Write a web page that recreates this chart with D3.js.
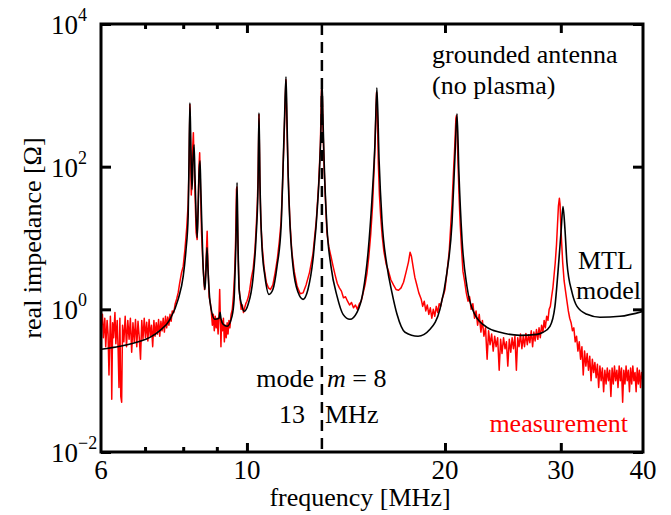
<!DOCTYPE html>
<html>
<head>
<meta charset="utf-8">
<script src="https://cdn.jsdelivr.net/npm/d3@7"></script>
<style>
body { margin: 0; background: #fff; }
text { font-family: "Liberation Serif", "Times New Roman", serif; }
</style>
</head>
<body>
<div id="chart"></div>
<script>
var width = 671, height = 515;
var margin = { left: 101, right: 28, top: 24, bottom: 63 };

// axis ticks
var xTickLabels = [6, 10, 20, 30, 40];
var xTicksMajor = [10, 20, 30];
var xTicksMinor = [7, 8, 9];
var yTicks = [1e-2, 1, 1e2, 1e4];
var yTickExp = ["\u22122", "0", "2", "4"];
var modeFreq = 13;

// MTL model, [frequency MHz, real impedance Ohm]
var model = [[6.0,0.276],[6.41,0.304],[6.88,0.357],[7.12,0.405],[7.38,0.508],[7.64,0.725],[7.86,1.38],[8.0,2.9],
  [8.08,6.9],[8.14,20],[8.16,82.6],[8.19,786],[8.22,173],[8.25,47.7],[8.28,125],[8.31,203],[8.34,66],[8.40,10.1],
  [8.43,25.1],[8.455,77.5],[8.485,121],[8.51,47.7],[8.57,5.0],[8.63,1.9],[8.66,3.09],[8.695,7.36],[8.725,3.63],
  [8.79,1.25],[8.94,0.725],[9.07,0.749],[9.10,0.908],[9.13,0.749],[9.20,0.617],[9.33,0.578],[9.49,0.798],[9.56,1.38],
  [9.59,3.09],[9.625,9.5],[9.66,59.9],[9.69,9.5],[9.73,1.9],[9.83,1.10],[9.90,0.938],[10.04,1.17],[10.21,2.63],
  [10.32,9.5],[10.395,52.5],[10.43,570],[10.47,52.5],[10.54,7.6],[10.65,2.9],[10.80,1.62],[10.95,1.9],[11.11,4.0],
  [11.27,14.5],[11.345,91],[11.405,455],[11.465,1817],[11.505,455],[11.546,91],[11.63,14.5],[11.75,4.0],[11.96,1.73],
  [12.17,1.38],[12.38,1.9],[12.60,5.0],[12.82,34.6],[12.91,125],[12.96,363],[13.00,1650],[13.05,455],[13.10,125],
  [13.23,14.5],[13.42,4.0],[13.71,1.52],[14.0,0.851],[14.34,0.725],[14.70,0.908],[15.01,1.73],[15.28,6.27],[15.49,34.6],
  [15.655,217],[15.76,1276],[15.88,125],[16.04,18.2],[16.33,4.0],[16.61,1.73],[16.91,0.851],[17.39,0.477],[18.20,0.419],
  [18.98,0.525],[19.65,1.0],[20.14,3.3],[20.50,16.5],[20.71,138],[20.86,552],[21.0,82.6],[21.23,9.5],[21.60,2.09],
  [22.2,0.851],[23.17,0.56],[24.25,0.477],[26.0,0.432],[27.6,0.446],[28.19,0.477],[28.88,0.578],[29.39,1.1],[29.70,3.3],
  [30.02,12],[30.23,27.6],[30.44,13.2],[30.65,4.54],[31.2,1.73],[31.75,1.1],[32.88,0.851],[34.41,0.773],[36.9,0.798],[40,0.938]];

// measurement, [frequency MHz, real impedance Ohm]
var measurement = [[6.00,0.55],[6.03,0.85],[6.05,0.40],[6.08,0.75],[6.10,0.30],[6.13,0.70],[6.15,0.45],[6.17,0.12],
  [6.20,0.80],[6.22,0.35],[6.23,0.055],[6.25,0.65],[6.27,0.40],[6.30,0.90],[6.32,0.33],[6.35,0.70],[6.37,0.28],
  [6.39,0.08],[6.41,0.75],[6.43,0.06],[6.45,0.05],[6.47,0.60],[6.50,0.35],[6.53,0.80],[6.56,0.30],[6.59,0.70],
  [6.62,0.38],[6.65,0.75],[6.68,0.25],[6.71,0.65],[6.74,0.35],[6.77,0.72],[6.80,0.30],[6.83,0.68],[6.86,0.40],
  [6.89,0.20],[6.92,0.70],[6.95,0.38],[6.98,0.75],[7.01,0.40],[7.04,0.66],[7.07,0.36],[7.10,0.72],[7.13,0.42],
  [7.16,0.60],[7.19,0.30],[7.22,0.70],[7.25,0.42],[7.28,0.65],[7.31,0.45],[7.34,0.72],[7.37,0.42],[7.40,0.68],
  [7.43,0.50],[7.46,0.75],[7.49,0.48],[7.52,0.80],[7.55,0.55],[7.58,0.78],[7.61,0.60],[7.64,0.85],[7.67,0.68],
  [7.70,0.95],[7.74,0.90],[7.78,1.2],[7.82,1.4],[7.86,1.7],[7.90,2.3],[7.95,3.2],[8.00,4.0],[8.05,7.0],[8.10,14],
  [8.14,30],[8.17,120],[8.19,737],[8.21,150],[8.23,40],[8.25,70],[8.27,180],[8.29,300],[8.31,120],[8.34,40],
  [8.37,12],[8.40,9.5],[8.43,30],[8.455,100],[8.475,157],[8.50,50],[8.53,12],[8.57,4.5],[8.62,1.9],[8.65,3.0],
  [8.68,7.0],[8.70,12.4],[8.72,5.0],[8.76,1.5],[8.80,1.2],[8.83,0.9],[8.86,0.6],[8.89,0.85],[8.92,0.5],[8.95,0.8],
  [8.98,0.55],[9.01,0.75],[9.04,0.45],[9.07,0.9],[9.09,1.9],[9.11,0.8],[9.13,0.30],[9.15,0.7],[9.18,0.5],[9.21,0.75],
  [9.24,0.35],[9.27,0.6],[9.30,0.40],[9.33,0.65],[9.36,0.45],[9.39,0.70],[9.42,0.55],[9.46,0.85],[9.50,1.0],
  [9.54,1.6],[9.58,3.3],[9.61,9.0],[9.64,48],[9.655,52],[9.67,20],[9.70,5],[9.73,2.0],[9.77,1.3],[9.80,1.0],
  [9.84,1.15],[9.88,0.9],[9.92,1.05],[9.96,1.2],[10.00,1.3],[10.05,1.5],[10.10,1.9],[10.16,2.8],[10.22,3.7],
  [10.28,6.5],[10.32,12],[10.37,30],[10.40,80],[10.43,535],[10.46,70],[10.50,16],[10.55,7.5],[10.62,3.8],[10.70,2.4],
  [10.78,2.0],[10.86,1.9],[10.95,2.2],[11.04,3.3],[11.12,5],[11.20,9],[11.27,17],[11.33,60],[11.40,350],[11.46,1650],
  [11.50,420],[11.55,80],[11.62,18],[11.70,6.5],[11.80,3.4],[11.92,2.1],[12.05,1.65],[12.17,1.7],[12.30,2.2],
  [12.45,3.3],[12.60,6],[12.75,18],[12.85,55],[12.93,200],[12.98,1200],[13.01,1300],[13.05,350],[13.10,100],
  [13.17,30],[13.23,12],[13.32,7.5],[13.42,5.5],[13.52,4.0],[13.62,3.0],[13.72,2.3],[13.82,2.0],[13.92,1.8],
  [14.02,1.45],[14.12,1.5],[14.22,1.3],[14.32,1.15],[14.42,1.25],[14.52,1.05],[14.62,1.15],[14.72,1.0],[14.82,1.2],
  [14.92,1.3],[15.02,1.7],[15.12,2.2],[15.22,3.2],[15.32,5.5],[15.42,11],[15.52,28],[15.62,110],[15.70,500],
  [15.74,1100],[15.78,600],[15.84,110],[15.90,40],[15.97,20],[16.05,11],[16.15,6.5],[16.28,4.3],[16.40,3.5],
  [16.55,2.6],[16.70,2.2],[16.85,1.9],[17.00,1.85],[17.15,2.0],[17.30,2.4],[17.45,3.3],[17.60,4.6],[17.70,6.3],
  [17.78,5.6],[17.90,3.8],[18.00,2.8],[18.10,2.3],[18.25,1.7],[18.40,1.4],[18.50,1.1],[18.60,1.3],[18.70,0.95],
  [18.80,1.15],[18.90,0.85],[19.00,1.05],[19.10,0.75],[19.20,1.0],[19.30,0.8],[19.40,1.1],[19.50,0.9],[19.60,1.2],
  [19.70,1.1],[19.80,1.4],[19.90,1.6],[20.00,1.9],[20.10,2.8],[20.20,4.2],[20.30,6.5],[20.40,14],[20.50,30],
  [20.60,80],[20.70,200],[20.78,480],[20.82,520],[20.88,250],[20.95,90],[21.02,35],[21.10,15],[21.20,6.8],
  [21.30,3.4],[21.42,2.5],[21.55,1.7],[21.68,1.3],[21.80,1.5],[21.92,1.0],[22.05,1.2],[22.18,0.75],[22.30,0.95],
  [22.42,0.60],[22.55,0.85],[22.68,0.48],[22.80,0.70],[22.92,0.42],[23.05,0.55],[23.18,0.20],[23.30,0.50],
  [23.42,0.32],[23.55,0.45],[23.68,0.26],[23.80,0.42],[23.92,0.30],[24.05,0.40],[24.18,0.14],[24.30,0.38],
  [24.42,0.24],[24.55,0.40],[24.68,0.28],[24.80,0.35],[24.92,0.16],[25.05,0.38],[25.18,0.25],[25.30,0.40],
  [25.42,0.28],[25.55,0.42],[25.68,0.14],[25.80,0.40],[25.92,0.30],[26.05,0.45],[26.18,0.28],[26.30,0.42],
  [26.42,0.30],[26.55,0.46],[26.68,0.32],[26.80,0.44],[26.92,0.34],[27.05,0.50],[27.18,0.30],[27.30,0.48],
  [27.42,0.36],[27.55,0.52],[27.68,0.38],[27.80,0.55],[27.92,0.40],[28.05,0.60],[28.18,0.48],[28.30,0.70],
  [28.42,0.55],[28.55,0.80],[28.68,0.70],[28.80,1.0],[28.92,1.1],[29.05,1.5],[29.18,2.0],[29.30,3.0],[29.42,4.5],
  [29.55,8],[29.65,15],[29.75,28],[29.85,36],[29.92,30],[30.00,15],[30.10,8],[30.20,4.5],[30.35,2.5],[30.50,1.8],
  [30.65,1.3],[30.80,0.95],[30.95,0.75],[31.10,0.65],[31.25,0.50],[31.40,0.55],[31.55,0.35],[31.70,0.42],
  [31.85,0.26],[32.00,0.35],[32.15,0.20],[32.30,0.30],[32.45,0.12],[32.60,0.26],[32.75,0.16],[32.90,0.24],
  [33.05,0.14],[33.20,0.22],[33.35,0.10],[33.50,0.20],[33.65,0.13],[33.80,0.18],[33.95,0.11],[34.10,0.17],
  [34.25,0.08],[34.40,0.16],[34.55,0.10],[34.70,0.15],[34.85,0.07],[35.00,0.14],[35.15,0.09],[35.30,0.15],
  [35.45,0.10],[35.60,0.14],[35.75,0.06],[35.90,0.15],[36.05,0.09],[36.20,0.16],[36.35,0.10],[36.50,0.14],
  [36.65,0.08],[36.80,0.16],[36.95,0.10],[37.10,0.15],[37.25,0.05],[37.40,0.14],[37.55,0.09],[37.70,0.16],
  [37.85,0.10],[38.00,0.14],[38.15,0.07],[38.30,0.15],[38.45,0.09],[38.60,0.16],[38.75,0.10],[38.90,0.13],
  [39.05,0.07],[39.20,0.15],[39.35,0.09],[39.50,0.14],[39.65,0.08],[39.80,0.13],[40.00,0.10]];

var svg = d3.select("#chart").append("svg")
    .attr("width", width).attr("height", height);

var x = d3.scaleLog().domain([6, 40]).range([margin.left, width - margin.right]);
var y = d3.scaleLog().domain([1e-2, 1e4]).range([height - margin.bottom, margin.top]);

svg.append("clipPath").attr("id", "plotclip")
    .append("rect")
    .attr("x", x(6)).attr("y", y(1e4))
    .attr("width", x(40) - x(6)).attr("height", y(1e-2) - y(1e4));

var line = d3.line()
    .x(function (d) { return x(d[0]); })
    .y(function (d) { return y(d[1]); });

var plot = svg.append("g").attr("clip-path", "url(#plotclip)");

plot.append("path")
    .attr("d", line(measurement))
    .attr("fill", "none")
    .attr("stroke", "#ff0000")
    .attr("stroke-width", 1.5)
    .attr("stroke-linejoin", "round");

plot.append("path")
    .attr("d", line.curve(d3.curveMonotoneX)(model))
    .attr("fill", "none")
    .attr("stroke", "#000")
    .attr("stroke-width", 1.6)
    .attr("stroke-linejoin", "round");

// dashed marker of mode m = 8
svg.append("line")
    .attr("x1", x(modeFreq)).attr("x2", x(modeFreq))
    .attr("y1", y(1e4)).attr("y2", y(1e-2))
    .attr("stroke", "#000")
    .attr("stroke-width", 2.5)
    .attr("stroke-dasharray", "11,7");

// ticks (inward, on all four sides)
function tickAxis(axis, tx, ty) {
    var g = svg.append("g")
        .attr("transform", "translate(" + tx + "," + ty + ")")
        .call(axis.tickFormat(""));
    g.select(".domain").remove();
    g.selectAll(".tick line").attr("stroke", "#000").attr("stroke-width", 3);
}
tickAxis(d3.axisBottom(x).tickValues(xTicksMajor).tickSize(-9), 0, y(1e-2));
tickAxis(d3.axisBottom(x).tickValues(xTicksMinor).tickSize(-5), 0, y(1e-2));
tickAxis(d3.axisTop(x).tickValues(xTicksMajor).tickSize(-9), 0, y(1e4));
tickAxis(d3.axisTop(x).tickValues(xTicksMinor).tickSize(-5), 0, y(1e4));
tickAxis(d3.axisLeft(y).tickValues(yTicks).tickSize(-10), x(6), 0);
tickAxis(d3.axisRight(y).tickValues(yTicks).tickSize(-10), x(40), 0);

svg.append("rect")
    .attr("x", x(6)).attr("y", y(1e4))
    .attr("width", x(40) - x(6)).attr("height", y(1e-2) - y(1e4))
    .attr("fill", "none")
    .attr("stroke", "#000")
    .attr("stroke-width", 3);

// tick labels
svg.selectAll(".xlab").data(xTickLabels).enter().append("text")
    .attr("class", "xlab")
    .attr("x", function (d) { return x(d); })
    .attr("y", 479)
    .attr("text-anchor", "middle")
    .attr("font-size", 27)
    .text(function (d) { return d; });

var ylab = svg.selectAll(".ylab").data(yTicks).enter().append("text")
    .attr("class", "ylab")
    .attr("x", 51)
    .attr("y", function (d) { return y(d) + 10; })
    .attr("font-size", 27);
ylab.append("tspan").text("10");
ylab.append("tspan")
    .attr("font-size", 18)
    .attr("dy", -13)
    .text(function (d, i) { return yTickExp[i]; });

// axis titles
svg.append("text")
    .attr("x", 360).attr("y", 506)
    .attr("text-anchor", "middle")
    .attr("font-size", 26)
    .text("frequency [MHz]");

svg.append("text")
    .attr("transform", "translate(41,238) rotate(-90)")
    .attr("text-anchor", "middle")
    .attr("font-size", 26)
    .text("real impedance [\u03a9]");

// annotations
function label(tx, ty, str, anchor, color) {
    return svg.append("text")
        .attr("x", tx).attr("y", ty)
        .attr("text-anchor", anchor || "start")
        .attr("font-size", 26)
        .attr("fill", color || "#000")
        .text(str);
}
label(432, 63, "grounded antenna");
label(432, 94, "(no plasma)");
label(578, 269, "MTL");
label(576, 299, "model");
label(628, 432, "measurement", "end", "#ff0000");
label(314, 387, "mode", "end");
label(305, 423, "13", "end");
label(325, 423, "MHz");
var mlab = label(327, 387, "");
mlab.append("tspan").attr("font-style", "italic").text("m");
mlab.append("tspan").text(" = 8");
</script>
</body>
</html>
